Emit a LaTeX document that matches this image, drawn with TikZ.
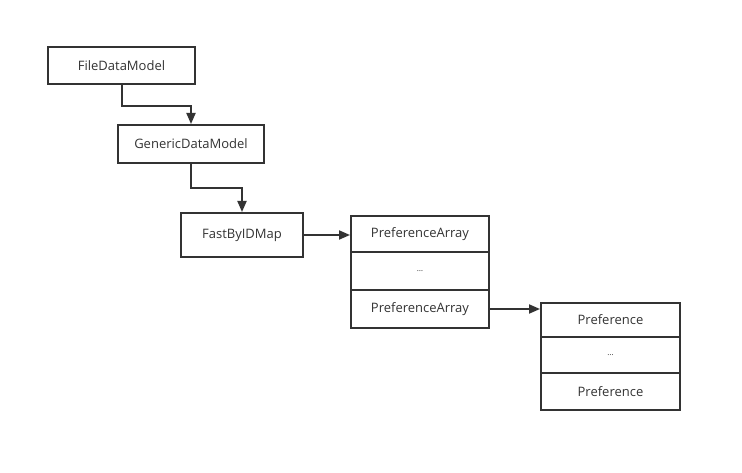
\documentclass[tikz,border=0pt]{standalone}
\usepackage{fontspec}
\setmainfont{Open Sans}
\usetikzlibrary{arrows.meta}
\definecolor{ink}{HTML}{333333}
\tikzset{
  box/.style={draw=ink, line width=2pt, rectangle, inner sep=0pt, text=ink, font=\fontsize{13}{15}\selectfont},
  conn/.style={draw=ink, line width=2pt, -{Triangle[length=11pt,width=9pt]}},
}
\begin{document}
\begin{tikzpicture}[x=1pt,y=-1pt]
\useasboundingbox (0,0) rectangle (742,473);
\node[box, minimum width=147pt, minimum height=37pt] (fdm) at (121.5,65.5) {FileDataModel};
\node[box, minimum width=146pt, minimum height=38pt] (gdm) at (191,144) {GenericDataModel};
\node[box, minimum width=122pt, minimum height=44pt] (fbm) at (242,235) {FastByIDMap};
\node[box, minimum width=138pt, minimum height=36pt] (pa1) at (420,234) {PreferenceArray};
\node[box, minimum width=138pt, minimum height=38pt] (pa2) at (420,271) {\fontsize{8}{10}\selectfont\ldots};
\node[box, minimum width=138pt, minimum height=38pt] (pa3) at (420,309) {PreferenceArray};
\node[box, minimum width=139pt, minimum height=34pt] (pr1) at (610.5,320) {Preference};
\node[box, minimum width=139pt, minimum height=36pt] (pr2) at (610.5,355) {\fontsize{8}{10}\selectfont\ldots};
\node[box, minimum width=139pt, minimum height=37pt] (pr3) at (610.5,391.5) {Preference};
\draw[conn] ([xshift=0.5pt]fdm.south) -- ++(0,21) -| (gdm.north);
\draw[conn] (gdm.south) -- ++(0,24) -| (fbm.north);
\draw[conn] (fbm.east) -- (fbm.east -| pa1.west);
\draw[conn] (pa3.east) -- (pa3.east -| pr1.west);
\end{tikzpicture}
\end{document}
